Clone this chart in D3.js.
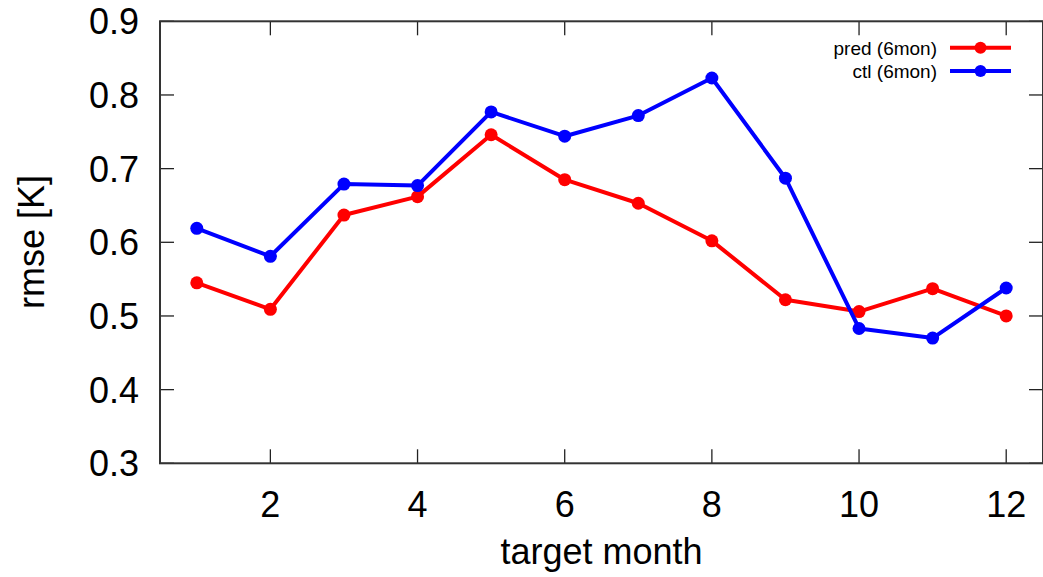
<!DOCTYPE html>
<html>
<head>
<meta charset="utf-8">
<script src="https://cdn.jsdelivr.net/npm/d3@7"></script>
<style>
  body { margin: 0; background: #fff; }
  svg { display: block; font-family: "Liberation Sans", Arial, Helvetica, sans-serif; }
</style>
</head>
<body>
<svg></svg>
<script>
// Data
const months = [1, 2, 3, 4, 5, 6, 7, 8, 9, 10, 11, 12];
const predValues = [0.545, 0.509, 0.637, 0.662, 0.746, 0.685, 0.653, 0.602, 0.522, 0.506, 0.537, 0.500];
const ctlValues = [0.619, 0.581, 0.679, 0.677, 0.777, 0.744, 0.772, 0.823, 0.687, 0.483, 0.470, 0.538];
const seriesNames = ["pred (6mon)", "ctl (6mon)"];
const xTicks = [2, 4, 6, 8, 10, 12];
const yTicks = [0.3, 0.4, 0.5, 0.6, 0.7, 0.8, 0.9];

const svg = d3.select("svg");
const width = 1043;
const height = 577;
svg.attr("width", width).attr("height", height);

// Plot frame
const plotLeft = 160, plotRight = 1043, plotTop = 21.3, plotBottom = 463.3;
const tickLen = 14;

const x = d3.scaleLinear().domain([0.5, 12.5]).range([plotLeft, plotRight]);
const y = d3.scaleLinear().domain([0.3, 0.9]).range([plotBottom, plotTop]);

const series = [
    {name: seriesNames[0], values: predValues, color: "#ff0000"},
    {name: seriesNames[1], values: ctlValues, color: "#0000ff"}
];

// Ticks (inward, mirrored on top and right)
const ticks = svg.append("g").attr("stroke", "#222").attr("stroke-width", 1.3);
xTicks.forEach(t => {
    ticks.append("line").attr("x1", x(t)).attr("x2", x(t))
        .attr("y1", plotBottom).attr("y2", plotBottom - tickLen);
    ticks.append("line").attr("x1", x(t)).attr("x2", x(t))
        .attr("y1", plotTop).attr("y2", plotTop + tickLen);
});
yTicks.forEach(t => {
    ticks.append("line").attr("x1", plotLeft).attr("x2", plotLeft + tickLen)
        .attr("y1", y(t)).attr("y2", y(t));
    ticks.append("line").attr("x1", plotRight).attr("x2", plotRight - tickLen)
        .attr("y1", y(t)).attr("y2", y(t));
});

// Border
svg.append("rect")
    .attr("x", plotLeft)
    .attr("y", plotTop)
    .attr("width", plotRight - plotLeft)
    .attr("height", plotBottom - plotTop)
    .attr("fill", "none")
    .attr("stroke", "#333")
    .attr("stroke-width", 2);

// Tick labels
svg.append("g").selectAll("text")
    .data(xTicks)
    .join("text")
    .attr("x", d => x(d))
    .attr("y", 517)
    .attr("text-anchor", "middle")
    .style("font-size", "36px")
    .text(d => d);

svg.append("g").selectAll("text")
    .data(yTicks)
    .join("text")
    .attr("x", 139)
    .attr("y", d => y(d) + 13)
    .attr("text-anchor", "end")
    .style("font-size", "36px")
    .text(d => d.toFixed(1));

// Axis titles
svg.append("text")
    .attr("x", (plotLeft + plotRight) / 2)
    .attr("y", 564)
    .attr("text-anchor", "middle")
    .style("font-size", "36px")
    .text("target month");

svg.append("text")
    .attr("transform", "translate(44,242) rotate(-90)")
    .attr("text-anchor", "middle")
    .style("font-size", "36px")
    .text("rmse [K]");

// Lines and markers
const line = d3.line()
    .x((d, i) => x(months[i]))
    .y(d => y(d));

series.forEach(s => {
    svg.append("path")
        .datum(s.values)
        .attr("d", line)
        .attr("fill", "none")
        .attr("stroke", s.color)
        .attr("stroke-width", 4)
        .attr("stroke-linejoin", "round");

    svg.append("g").selectAll("circle")
        .data(s.values)
        .join("circle")
        .attr("cx", (d, i) => x(months[i]))
        .attr("cy", d => y(d))
        .attr("r", 6.5)
        .attr("fill", s.color);
});

// Legend
const legend = svg.append("g");
series.forEach((s, i) => {
    const ly = 47.7 + i * 23.3;
    legend.append("text")
        .attr("x", 937)
        .attr("y", ly + 7)
        .attr("text-anchor", "end")
        .style("font-size", "19px")
        .text(s.name);
    legend.append("line")
        .attr("x1", 950).attr("x2", 1011)
        .attr("y1", ly).attr("y2", ly)
        .attr("stroke", s.color)
        .attr("stroke-width", 4);
    legend.append("circle")
        .attr("cx", 980.5)
        .attr("cy", ly)
        .attr("r", 6)
        .attr("fill", s.color);
});
</script>
</body>
</html>
